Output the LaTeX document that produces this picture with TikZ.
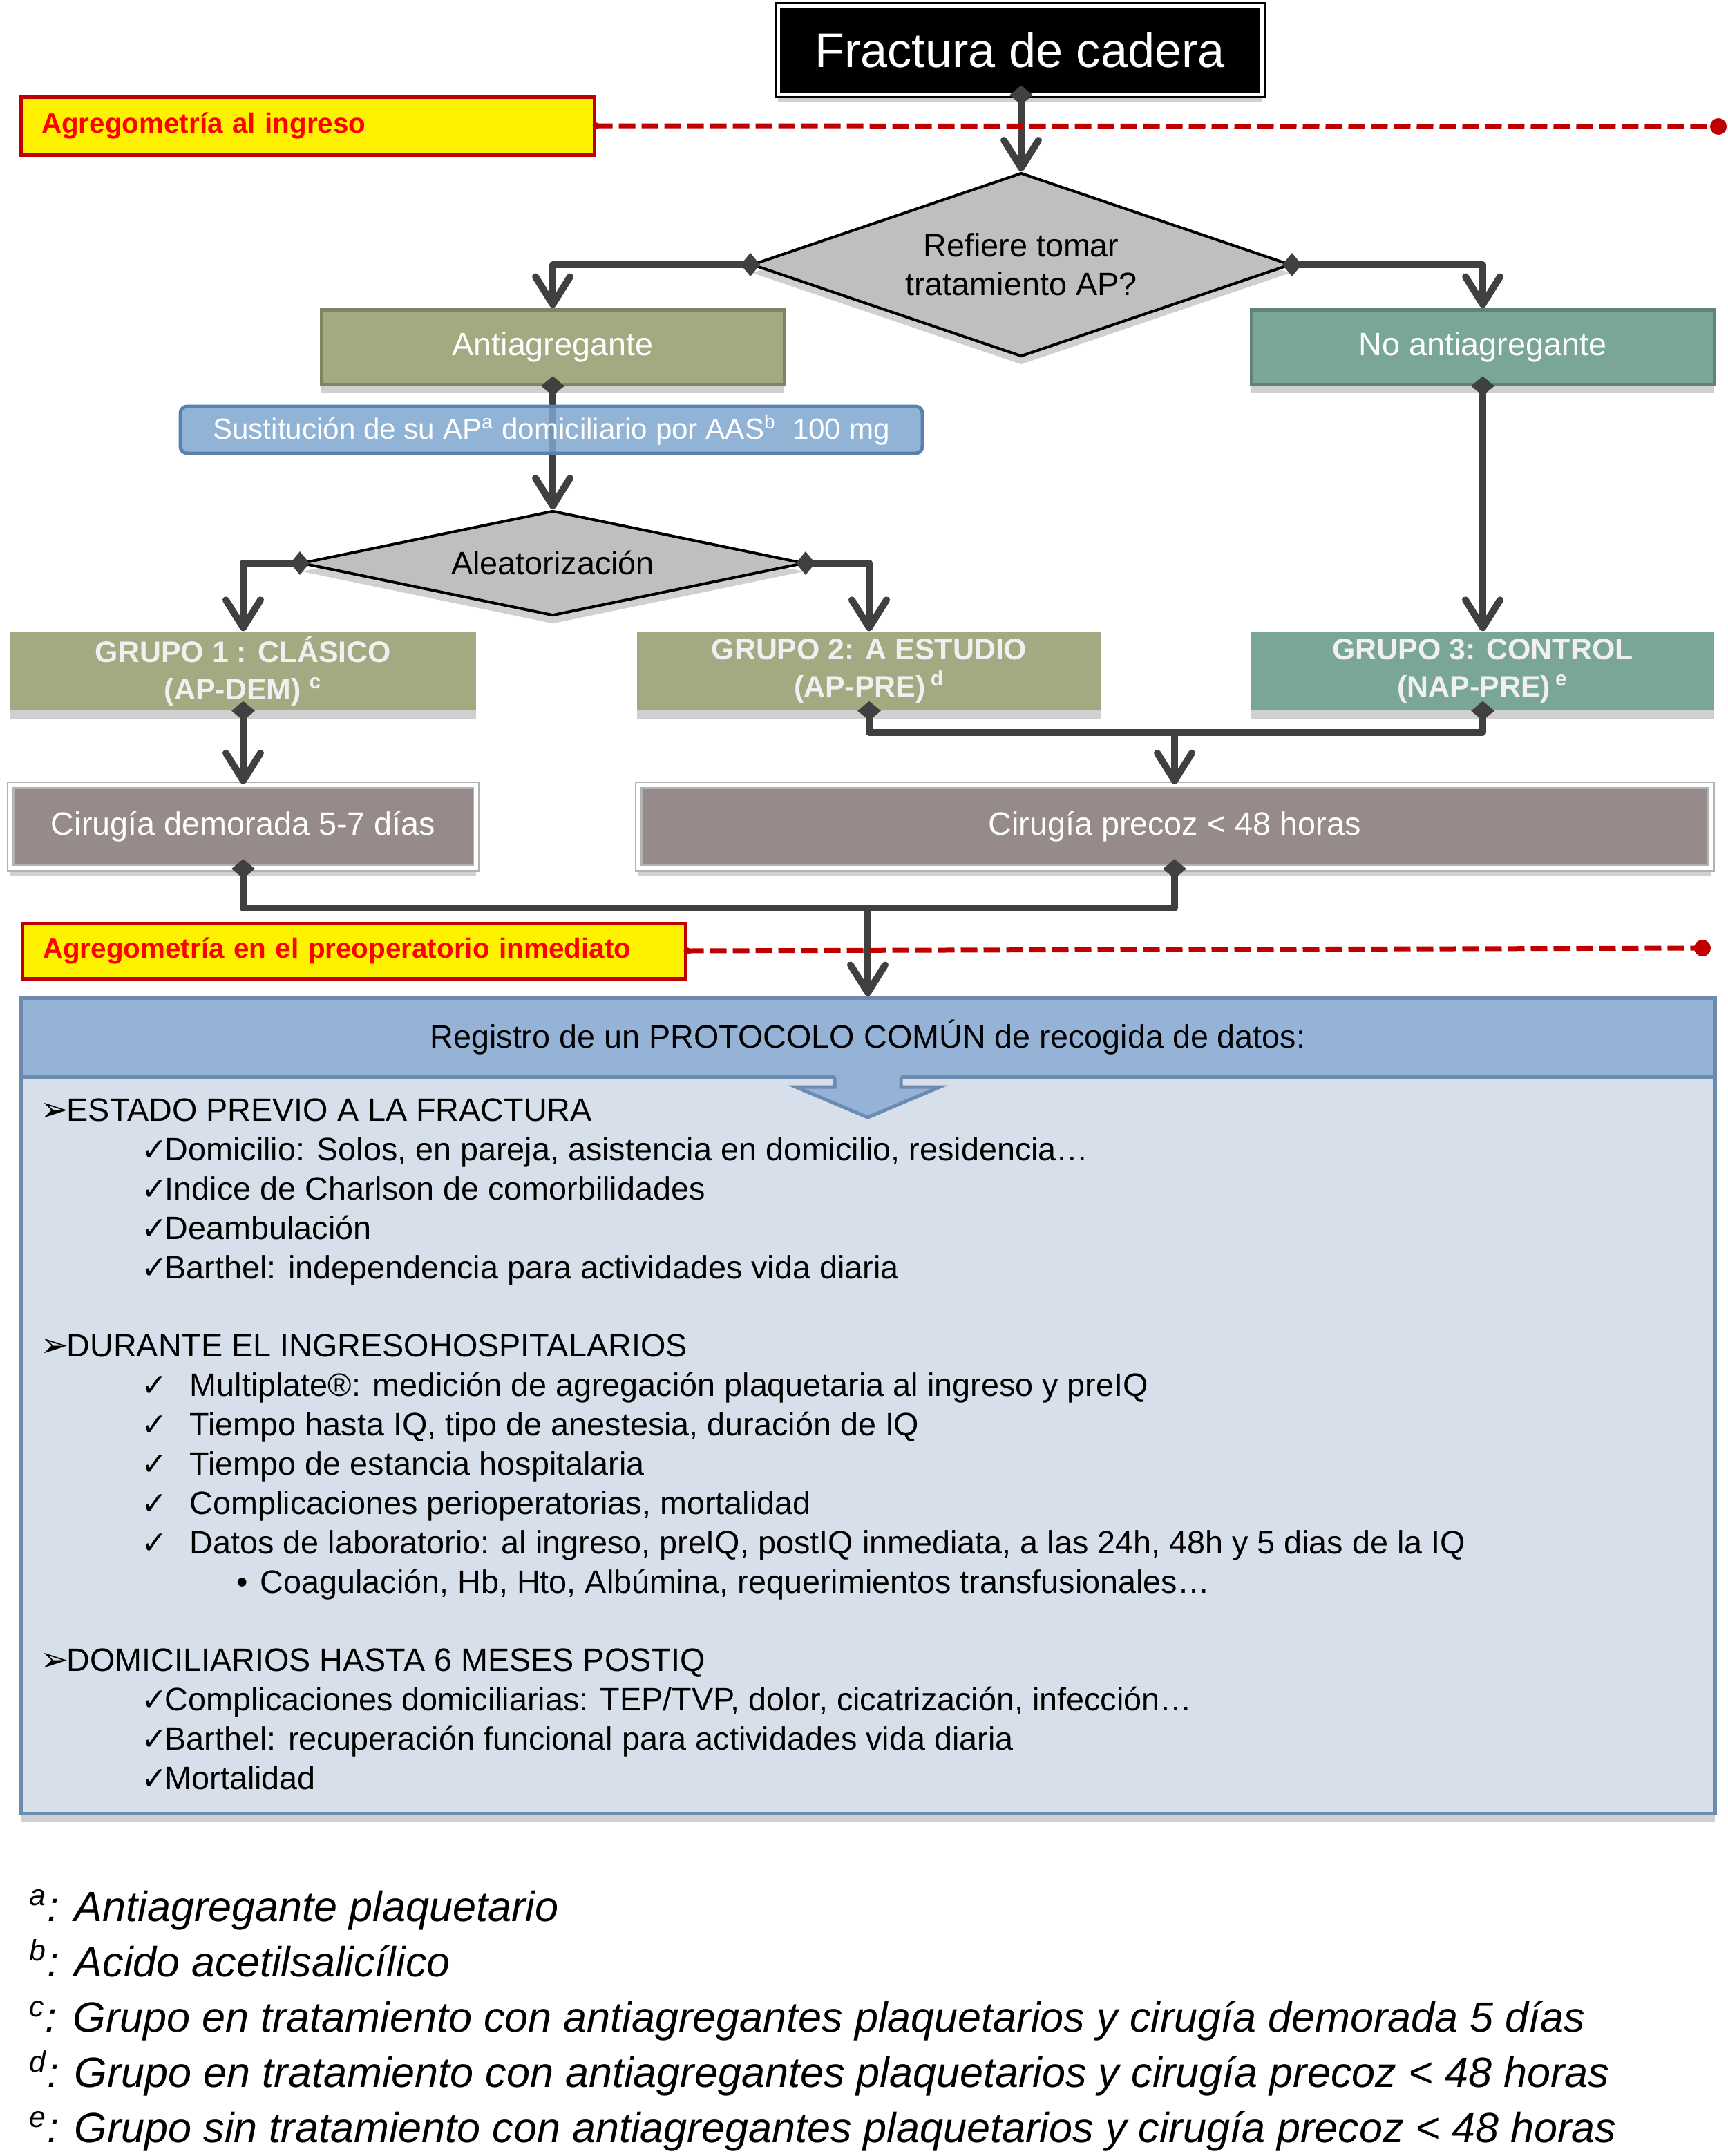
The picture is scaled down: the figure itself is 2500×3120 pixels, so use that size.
\documentclass[tikz,border=0pt]{standalone}
\usepackage{fontspec}
\setmainfont{Liberation Sans}
\newfontfamily\symf{DejaVu Sans}
\usetikzlibrary{arrows.meta,shapes.geometric,shadows}
\definecolor{conncol}{HTML}{404040}
\definecolor{agred}{HTML}{C00000}
\definecolor{agtext}{HTML}{FF0000}
\definecolor{olivebox}{HTML}{A3A981}
\definecolor{olivedk}{HTML}{7F8560}
\definecolor{tealbox}{HTML}{7AA699}
\definecolor{tealdk}{HTML}{5C8478}
\definecolor{taupe}{HTML}{968B8A}
\definecolor{susblue}{HTML}{7EA6CE}
\definecolor{susbord}{HTML}{5A80AC}
\definecolor{reghead}{HTML}{95B3D7}
\definecolor{regbord}{HTML}{6C8BB0}
\definecolor{regbody}{HTML}{D6DFEA}
\definecolor{diagray}{HTML}{BFBFBF}
\newcommand\chkm{{\symf\fontsize{13}{14}\selectfont ✓}}
\newcommand\arrw{{\symf\fontsize{14}{15}\selectfont ➢}}
\tikzset{
  shad/.style={drop shadow={shadow xshift=0mm, shadow yshift=-1.2mm, opacity=0.3, fill=black!60}},
  box/.style={rectangle, inner sep=0pt, align=center, text=white, font=\fontsize{13.3}{16}\selectfont, shad},
  titlebox/.style={rectangle, fill=black, draw=black, line width=0.3mm, double=white, double distance=0.5mm, text=white, font=\fontsize{20}{24}\selectfont, inner sep=0pt, shad},
  agrbox/.style={rectangle, fill=yellow, draw=agred, line width=0.5mm, text=agtext, font=\bfseries\fontsize{11.5}{14}\selectfont, align=left, inner xsep=3mm, inner ysep=0pt},
  agrline/.style={draw=agred, line width=0.7mm, dash pattern=on 2.4mm off 0.9mm},
  dia/.style={diamond, fill=diagray, draw=black, line width=0.4mm, inner sep=0pt, align=center, font=\fontsize{13.3}{15.8}\selectfont, shad},
  susbox/.style={rectangle, rounded corners=1mm, fill=susblue, fill opacity=0.85, text opacity=1, draw=susbord, line width=0.5mm, text=white, font=\fontsize{12}{14}\selectfont, inner sep=0pt},
  grp/.style={rectangle, inner sep=0pt, align=center, text=white!94!black, font=\bfseries\fontsize{12.2}{15.2}\selectfont, shad},
  cir/.style={rectangle, fill=taupe, draw=black!30, line width=0.25mm, double=white, double distance=0.6mm, text=white, font=\fontsize{13.3}{16}\selectfont, inner sep=0pt, shad},
  conn/.style={draw=conncol, line width=1mm, line join=round},
  darrow/.style={conn, {Diamond[length=2.8mm,width=3.4mm,line width=0pt]}-{Straight Barb[length=4mm,width=5mm,round]}, shorten <=-1.4mm},
  dline/.style={conn, {Diamond[length=2.8mm,width=3.4mm,line width=0pt]}-, shorten <=-1.4mm},
  ddline/.style={conn, {Diamond[length=2.8mm,width=3.4mm,line width=0pt]}-{Diamond[length=2.8mm,width=3.4mm,line width=0pt]}, shorten <=-1.4mm, shorten >=-1.4mm},
  parrow/.style={conn, -{Straight Barb[length=4mm,width=5mm,round]}},
  itm/.style={anchor=base west, inner sep=0pt, font=\fontsize{13.3}{16}\selectfont},
  fnt/.style={anchor=base west, inner sep=0pt, font=\itshape\fontsize{17.4}{20}\selectfont},
}
\begin{document}
\begin{tikzpicture}[x=0.1mm,y=-0.1mm]
\useasboundingbox[fill=white] (0,0) rectangle (2500,3120);

% ---- nodes ----
\node[titlebox, minimum width=70mm, minimum height=12.8mm] (title) at (1476,72) {Fractura de cadera};
\node[agrbox, minimum width=83mm, minimum height=8.4mm, text width=77mm] (agr1) at (445,182) {Agregometría al ingreso};
\node[dia, minimum width=78mm, minimum height=26.6mm, aspect=2.93] (dia1) at (1478,383) {Refiere tomar\\tratamiento AP?};
\node[box, fill=olivebox, draw=olivedk, line width=0.5mm, minimum width=67mm, minimum height=10.8mm] (anti) at (800,502) {Antiagregante};
\node[box, fill=tealbox, draw=tealdk, line width=0.5mm, minimum width=67mm, minimum height=10.8mm] (noanti) at (2146,502) {No antiagregante};
\node[dia, minimum width=72.8mm, minimum height=15.2mm, aspect=4.8] (dia2) at (800,815) {Aleatorización};

\draw[darrow] (anti.south) -- (anti.south |- dia2.north);
\node[susbox, minimum width=107.4mm, minimum height=6.8mm] (sus) at (798,622) {Sustitución de su AP\textsuperscript{a} domiciliario por AAS\textsuperscript{b}\ \ 100 mg};

\node[grp, fill=olivebox, minimum width=67.4mm, minimum height=11.4mm] (g1) at (352,971) {GRUPO 1 : CLÁSICO\\(AP-DEM) \textsuperscript{c}};
\node[grp, fill=olivebox, minimum width=67.2mm, minimum height=11.4mm] (g2) at (1258,971) {GRUPO 2: A ESTUDIO\\(AP-PRE)\,\textsuperscript{d}};
\node[grp, fill=tealbox, minimum width=67mm, minimum height=11.4mm] (g3) at (2146,971) {GRUPO 3: CONTROL\\(NAP-PRE)\,\textsuperscript{e}};

\node[cir, minimum width=67.4mm, minimum height=12mm] (cir1) at (352,1196) {Cirugía demorada 5-7 días};
\node[cir, minimum width=155.2mm, minimum height=12mm] (cir2) at (1700,1196) {Cirugía precoz < 48 horas};

\node[agrbox, minimum width=96mm, minimum height=8mm, text width=90mm] (agr2) at (512,1376) {Agregometría en el preoperatorio inmediato};

\node[rectangle, fill=regbody, draw=regbord, line width=0.5mm, minimum width=245.2mm, minimum height=106.6mm, inner sep=0pt, shad] (regbody) at (1256,2091) {};
\node[rectangle, fill=reghead, draw=regbord, line width=0.5mm, minimum width=245.2mm, minimum height=11.4mm, inner sep=0pt, font=\fontsize{13.3}{16}\selectfont] (reghead) at (1256,1501) {Registro de un PROTOCOLO COMÚN de recogida de datos:};
\fill[reghead] (1208,1553) -- (1208,1573) -- (1152,1573) -- (1256,1617) -- (1360,1573) -- (1304,1573) -- (1304,1553) -- cycle;
\draw[regbord, line width=0.5mm, line join=miter] (1208,1558) -- (1208,1573) -- (1152,1573) -- (1256,1617) -- (1360,1573) -- (1304,1573) -- (1304,1558);

% ---- connectors ----
\draw[darrow] (dia1.north |- title.south) -- (dia1.north);
\draw[darrow] (dia1.west) -| (anti.north);
\draw[darrow] (dia1.east) -| (noanti.north);
\draw[darrow] (dia2.west) -| (g1.north);
\draw[darrow] (dia2.east) -| (g2.north);
\draw[darrow] (noanti.south) -- (g3.north);
\draw[darrow] (g1.south) -- (cir1.north);
\coordinate (j1) at (1700,1060);
\draw[darrow] (g2.south) |- (j1) -- (cir2.north);
\draw[dline] (g3.south) |- (j1);
\coordinate (j3) at (1700,1314);
\coordinate (j2) at (1256,1314);
\draw[ddline] (cir1.south) |- (j3) -- (cir2.south);
\draw[parrow] (j2) -- (reghead.north);

% ---- agregometria lines ----
\coordinate (agr1end) at (2487,183);
\draw[agrline] (agr1.east) -- (agr1end);
\fill[agred] (agr1end) circle (1.2mm);
\fill[agred] (agr1.east) circle (0.5mm);
\coordinate (agr2end) at (2464,1372);
\draw[agrline] (agr2.east) -- (agr2end);
\fill[agred] (agr2end) circle (1.2mm);
\fill[agred] (agr2.east) circle (0.5mm);

% ---- body text ----
\node[itm] (b1) at (58,1622) {\makebox[3.8mm][l]{\arrw}ESTADO PREVIO A LA FRACTURA};
\node[itm] (b2) at (204,1679) {\makebox[3.4mm][l]{\chkm}Domicilio: Solos, en pareja, asistencia en domicilio, residencia…};
\node[itm] (b3) at (204,1736) {\makebox[3.4mm][l]{\chkm}Indice de Charlson de comorbilidades};
\node[itm] (b4) at (204,1793) {\makebox[3.4mm][l]{\chkm}Deambulación};
\node[itm] (b5) at (204,1850) {\makebox[3.4mm][l]{\chkm}Barthel: independencia para actividades vida diaria};
\node[itm] (b6) at (58,1963) {\makebox[3.8mm][l]{\arrw}DURANTE EL INGRESOHOSPITALARIOS};
\node[itm] (b7) at (204,2020) {\makebox[7mm][l]{\chkm}Multiplate®: medición de agregación plaquetaria al ingreso y preIQ};
\node[itm] (b8) at (204,2077) {\makebox[7mm][l]{\chkm}Tiempo hasta IQ, tipo de anestesia, duración de IQ};
\node[itm] (b9) at (204,2134) {\makebox[7mm][l]{\chkm}Tiempo de estancia hospitalaria};
\node[itm] (b10) at (204,2191) {\makebox[7mm][l]{\chkm}Complicaciones perioperatorias, mortalidad};
\node[itm] (b11) at (204,2248) {\makebox[7mm][l]{\chkm}Datos de laboratorio: al ingreso, preIQ, postIQ inmediata, a las 24h, 48h y 5 dias de la IQ};
\node[itm] (b12) at (342,2305) {\makebox[3.4mm][l]{•}Coagulación, Hb, Hto, Albúmina, requerimientos transfusionales…};
\node[itm] (b13) at (58,2418) {\makebox[3.8mm][l]{\arrw}DOMICILIARIOS HASTA 6 MESES POSTIQ};
\node[itm] (b14) at (204,2475) {\makebox[3.4mm][l]{\chkm}Complicaciones domiciliarias: TEP/TVP, dolor, cicatrización, infección…};
\node[itm] (b15) at (204,2532) {\makebox[3.4mm][l]{\chkm}Barthel: recuperación funcional para actividades vida diaria};
\node[itm] (b16) at (204,2589) {\makebox[3.4mm][l]{\chkm}Mortalidad};

% ---- footnotes ----
\node[fnt] (f1) at (42,2780) {\textsuperscript{a}: Antiagregante plaquetario};
\node[fnt] (f2) at (42,2860) {\textsuperscript{b}: Acido acetilsalicílico};
\node[fnt] (f3) at (42,2940) {\textsuperscript{c}: Grupo en tratamiento con antiagregantes plaquetarios y cirugía demorada 5 días};
\node[fnt] (f4) at (42,3020) {\textsuperscript{d}: Grupo en tratamiento con antiagregantes plaquetarios y cirugía precoz < 48 horas};
\node[fnt] (f5) at (42,3100) {\textsuperscript{e}: Grupo sin tratamiento con antiagregantes plaquetarios y cirugía precoz < 48 horas};
\end{tikzpicture}
\end{document}
